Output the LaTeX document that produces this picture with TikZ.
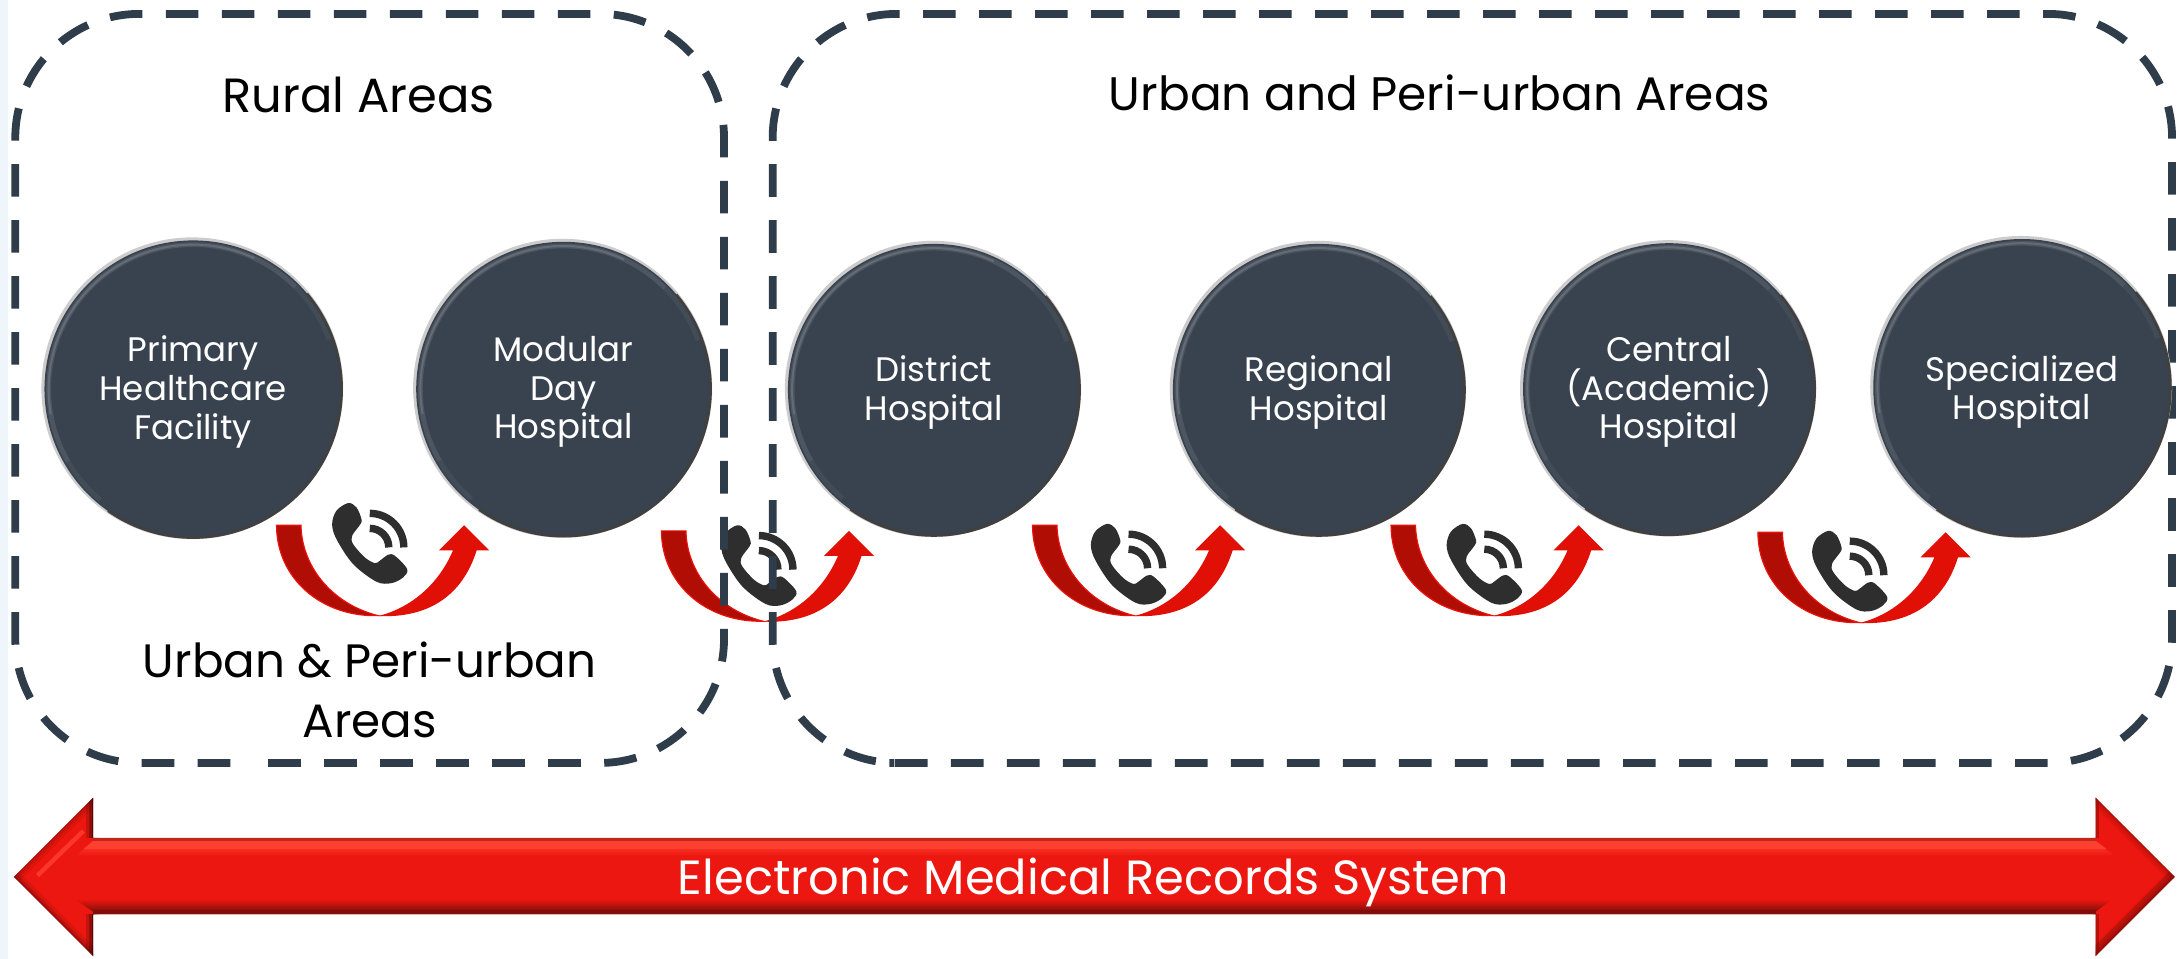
\documentclass[tikz,border=0pt]{standalone}
\usepackage{fontspec}
\setmainfont{Poppins}
\usetikzlibrary{calc}
\definecolor{slate}{HTML}{38434F}
\definecolor{dashc}{HTML}{2F3D4B}
\definecolor{arrowdark}{HTML}{B00D05}
\definecolor{arrowred}{HTML}{E01006}
\definecolor{edgered}{HTML}{EA1209}
\definecolor{phonec}{HTML}{2E2E2E}
\definecolor{bigred}{HTML}{EC1710}
\definecolor{bright}{HTML}{FF3F30}
\definecolor{deepred}{HTML}{7F0E08}
\definecolor{stripe}{HTML}{EEF5FB}
\tikzset{
  zone/.style={draw=dashc,line width=3.9pt,dash pattern=on 16.3pt off 11.7pt,rounded corners=62pt},
  hospital/.style={circle,fill=slate,text=white,inner sep=0pt,align=center,font=\fontsize{17}{19.4}\selectfont},
  heading/.style={align=center,text=black,inner sep=0pt,font=\fontsize{24}{30.5}\selectfont},
  wave/.style={phonec,line width=3.7pt}
}
\newcommand{\hosp}[6]{% name,x,y,r,text,textdy
  \fill[gray!40] (#2-.6,#3-.6) circle[radius=#4+1.6];
  \node[hospital,minimum size=#4*1.3896pt] (#1) at (#2,#3) {};
  \draw[black!75,line width=1.5pt] ($(#2,#3)+(-40:#4-.3)$) arc[start angle=-40,end angle=125,radius=#4-.3];
  \draw[white!25!slate,line width=2.4pt,opacity=.2] ($(#2,#3)+(130:#4-3)$) arc[start angle=130,end angle=340,radius=#4-3];
  \draw[white!25!slate,line width=2.4pt,opacity=.25] ($(#2,#3)+(150:#4-3)$) arc[start angle=150,end angle=315,radius=#4-3];
  \draw[white!40!slate,line width=1pt,opacity=.4] ($(#2,#3)+(170:#4-3)$) arc[start angle=170,end angle=295,radius=#4-3];
  \node[hospital,fill=none] at (#2,#3+#6) {#5};
}
\newcommand{\phone}[2]{%
  \begin{scope}[shift={(#1,#2)}]
    \fill[phonec] plot[smooth cycle,tension=.55] coordinates {(11.5,0) (17.5,3.1) (21.1,11.5) (20.4,15.1) (14.4,23.5) (15.1,29.5) (23.5,39.1) (30.7,43.2) (34.3,41.5) (40.3,37.2) (45.1,37.9) (54,47.5) (51.1,53.5) (42.7,57.6) (31.9,56.6) (15.1,43.9) (3.1,25.9) (0,15.1) (3.1,5.5)};
    \draw[wave] (27.1,7.4) arc[start angle=270,end angle=360,radius=24.5];
    \draw[wave] (27.1,18.2) arc[start angle=270,end angle=360,radius=13.7];
  \end{scope}}
\newcommand{\callarrow}[2]{%
  \begin{scope}[shift={(#1,#2)}]
    \filldraw[fill=arrowdark,draw=edgered,line width=.6pt] (0,0) -- (17.6,0) .. controls (18,28) and (38,56) .. (73,65) .. controls (32,66) and (0,38) .. (0,0) -- cycle;
    \fill[arrowred] (73,65.3) .. controls (110,67) and (134,50) .. (144,18) -- (153,18) -- (135,0) -- (117,18) -- (127,18) .. controls (116,44) and (95,60) .. (73,65.3) -- cycle;
  \end{scope}}
\newcommand{\soft}[3]{% a, b, colour: soft edge line
  \draw[#3,line width=7pt,opacity=.18] #1 -- #2;
  \draw[#3,line width=4pt,opacity=.3] #1 -- #2;
  \draw[#3,line width=1.6pt,opacity=.5] #1 -- #2;}
\begin{document}
\begin{tikzpicture}[x=0.6948pt,y=-0.6948pt]
\useasboundingbox (0,0) rectangle (1568,690);
\fill[white] (0,0) rectangle (1568,690);
\fill[stripe] (0,0) rectangle (6,690);
% curved arrows + phones
\callarrow{199}{378}\phone{239}{362}
\callarrow{476}{382}\phone{519}{378}
\callarrow{743}{378}\phone{785}{377}
\callarrow{1001}{378}\phone{1041}{377}
\callarrow{1265}{383}\phone{1304}{382}
% zones
\draw[zone] (193,549) -- (521,549) -- (521,10) -- (11,10) -- (11,549) -- (180,549);
\draw[zone] (644,549) -- (1563,549) -- (1563,10) -- (556,10) -- (556,549) -- (640,549);
% hospitals
\hosp{primary}{139}{280}{107}{Primary\\Healthcare\\Facility}{2}
\hosp{modular}{405.5}{280}{106}{Modular\\Day\\Hospital}{2}
\hosp{district}{672}{280.5}{105}{District\\Hospital}{2}
\hosp{regional}{949}{280.5}{105}{Regional\\Hospital}{2}
\hosp{central}{1201}{280}{105}{Central\\(Academic)\\Hospital}{2}
\hosp{special}{1455}{279}{107}{Specialized\\Hospital}{3}
% titles
\node[heading] (rural) at (258,68) {Rural Areas};
\node[heading,font=\fontsize{23.5}{30.5}\selectfont] (urban) at (1036,67) {Urban and Peri-urban Areas};
\node[heading,font=\fontsize{23.4}{29.8}\selectfont] (mixed) at (266,496.5) {Urban \& Peri-urban\\Areas};
% big arrow
\begin{scope}
\clip (10,631) -- (67,574) -- (67,603) -- (1508,603) -- (1508,574) -- (1565,631) -- (1508,688) -- (1508,658) -- (67,658) -- (67,688) -- cycle;
\fill[bigred] (0,560) rectangle (1568,690);
\shade[top color=bright,bottom color=bigred] (54,616) -- (67,606) -- (1508,606) -- (1522,616) -- cycle;
\fill[bright] (60,611) -- (67,605) -- (1508,605) -- (1516,611) -- cycle;
\shade[top color=bigred,bottom color=deepred] (54,647) -- (1520,647) -- (1508,656) -- (67,656) -- cycle;
\fill[deepred] (67,655) rectangle (1508,658);
\fill[bright!50!deepred] (67,603) rectangle (1508,605);
% left head
\soft{(10,631)}{(67,574)}{deepred!70!bigred}
\soft{(10,631)}{(67,688)}{deepred}
\soft{(67,574)}{(67,603)}{black!80!deepred}
\soft{(67,658)}{(67,688)}{black!80!deepred}
\draw[bright,line width=2.2pt,opacity=.8] (27,630) -- (60,598);
% right head
\soft{(1565,631)}{(1508,574)}{deepred!70!bigred}
\draw[deepred,line width=8pt,opacity=.3] (1565,631) -- (1508,688);
\soft{(1565,631)}{(1508,688)}{deepred}
\draw[deepred,line width=3pt,opacity=.5] (1508,574) -- (1508,603);
\draw[deepred,line width=3pt,opacity=.5] (1508,658) -- (1508,688);
\end{scope}
\node[heading,text=white] (emr) at (787,635) {Electronic Medical Records System};
\end{tikzpicture}
\end{document}
